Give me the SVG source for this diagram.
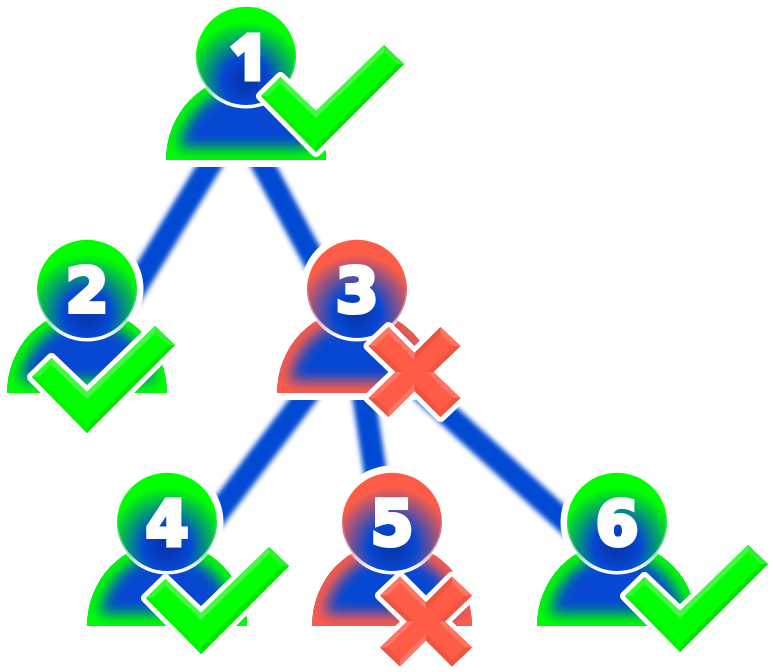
<svg xmlns="http://www.w3.org/2000/svg" xmlns:xlink="http://www.w3.org/1999/xlink" width="773" height="672" viewBox="0 0 773 672">
<style>
.halo{fill:#fff;stroke:#fff;stroke-width:14}
.rim{fill:none;stroke:url(#rim);stroke-width:3.5}
.num{font-family:"DejaVu Sans",sans-serif;font-weight:700;font-size:62px;fill:#fff;stroke:#fff;stroke-width:4;text-anchor:middle}
.one{font-family:"Open Sans","DejaVu Sans",sans-serif;font-weight:800;font-size:64px;stroke-width:3}
.link{stroke:#0648d2;stroke-width:23;fill:none}
.body{fill:#0648d2}
.glow{fill:none;stroke-width:24}
.glowG{stroke:#00ff00}.glowR{stroke:#ff5c47}
.headG{fill:url(#headG)}
.headR{fill:url(#headR)}
.mh{fill:#fff;stroke:#fff;stroke-width:10;stroke-linejoin:round}
</style>
<defs>
<radialGradient id="headG" cx=".5" cy=".74" r=".74"><stop offset=".1" stop-color="#0638b4"/><stop offset=".32" stop-color="#0648d2"/><stop offset=".8" stop-color="#00ff00"/></radialGradient>
<radialGradient id="headR" cx=".5" cy=".74" r=".74"><stop offset=".1" stop-color="#0638b4"/><stop offset=".32" stop-color="#0648d2"/><stop offset=".8" stop-color="#ff5c47"/></radialGradient>
<linearGradient id="rim" x1="0" y1="0" x2="0" y2="1"><stop offset=".45" stop-color="#fff" stop-opacity="0"/><stop offset=".8" stop-color="#fff" stop-opacity=".55"/><stop offset=".97" stop-color="#fff"/></linearGradient>
<filter id="soft" filterUnits="userSpaceOnUse" x="0" y="0" width="773" height="672"><feGaussianBlur stdDeviation="2.6"/></filter>
<filter id="glowblur" filterUnits="userSpaceOnUse" x="-130" y="-30" width="260" height="190"><feGaussianBlur stdDeviation="7"/></filter>
<clipPath id="torsoClip"><path d="M-80,104A80,84 0 0 1 80,104Z"/></clipPath>
<g id="person-halo">
<circle r="56.5" fill="#fff"/>
<path class="halo" d="M-80,104A80,84 0 0 1 80,104Z"/>
</g>
<g id="check">
<polygon class="mh" points="-55,-56 -35.5,-75 0,-41 68,-107 88,-88 0,0"/>
<polygon fill="#00ff00" points="-55,-56 -35.5,-75 0,-41 68,-107 88,-88 0,0"/>
<polygon fill="#2bff2b" points="-55,-56 -35.5,-75 -35.5,-68 -48,-56"/>
<polygon fill="#44f844" points="-35.5,-75 0,-41 0,-34 -35.5,-68"/>
<polygon fill="#44f844" points="0,-41 68,-107 68,-100 0,-34"/>
<polygon fill="#30f030" points="68,-107 88,-88 81,-88 68,-100"/>
<polygon fill="#00e400" points="88,-88 0,0 0,-7 81,-88"/>
<polygon fill="#00f600" points="0,0 -55,-56 -48,-56 0,-7"/>
</g>
<g id="cross">
<polygon class="mh" points="0,-19 26,-45 46,-26 19,0 46,26 26,45 0,19 -26,45 -46,26 -19,0 -46,-26 -26,-45"/>
<polygon fill="#ff5c47" points="0,-19 26,-45 46,-26 19,0 46,26 26,45 0,19 -26,45 -46,26 -19,0 -46,-26 -26,-45"/>
<path fill="#ee5541" d="M0,-19L26,-45 26,-38 0,-12ZM46,-26L19,0 12,0 39,-26ZM46,26L26,45 26,38 39,26ZM26,45L0,19 0,12 26,38ZM-26,45L-46,26 -39,26 -26,38ZM-46,-26L-19,0 -12,0 -39,-26Z"/>
<path fill="#ff7565" d="M26,-45L46,-26 39,-26 26,-38ZM19,0L46,26 39,26 12,0ZM0,19L-26,45 -26,38 0,12ZM-46,26L-19,0 -12,0 -39,26ZM-46,-26L-26,-45 -26,-38 -39,-26ZM-26,-45L0,-19 0,-12 -26,-38Z"/>
</g>
<g id="figG">
<g clip-path="url(#torsoClip)"><path class="body" d="M-80,104A80,84 0 0 1 80,104Z"/><path class="glow glowG" filter="url(#glowblur)" d="M-80,104A80,84 0 0 1 80,104Z"/></g>
<g transform="translate(0,.7)"><circle class="headG" r="50"/><circle class="rim" r="50"/></g>
</g>
<g id="figR">
<g clip-path="url(#torsoClip)"><path class="body" d="M-80,104A80,84 0 0 1 80,104Z"/><path class="glow glowR" filter="url(#glowblur)" d="M-80,104A80,84 0 0 1 80,104Z"/></g>
<g transform="translate(0,.7)"><circle class="headR" r="50"/><circle class="rim" r="50"/></g>
</g>
</defs>
<rect width="773" height="672" fill="#fff"/>
<g id="connectors" class="link" filter="url(#soft)">
<line x1="219" y1="150" x2="128" y2="300"/>
<line x1="255" y1="150" x2="330" y2="290"/>
<line x1="315" y1="384" x2="205" y2="530"/>
<line x1="362" y1="385" x2="381" y2="510"/>
<line x1="410" y1="380" x2="575" y2="530.5"/>
</g>
<use href="#person-halo" xlink:href="#person-halo" x="246" y="56"/>
<use href="#person-halo" xlink:href="#person-halo" x="87" y="289"/>
<use href="#person-halo" xlink:href="#person-halo" x="357" y="289"/>
<use href="#person-halo" xlink:href="#person-halo" x="167" y="522"/>
<use href="#person-halo" xlink:href="#person-halo" x="392" y="522"/>
<use href="#person-halo" xlink:href="#person-halo" x="617" y="522"/>
<g id="node1">
<g transform="translate(246,56)"><use href="#figG" xlink:href="#figG"/><text class="num one" y="24" x="2">1</text></g>
<use href="#check" xlink:href="#check" x="316" y="152"/>
</g>
<g id="node2">
<g transform="translate(87,289)"><use href="#figG" xlink:href="#figG"/><text class="num" y="23">2</text></g>
<use href="#check" xlink:href="#check" x="87" y="433"/>
</g>
<g id="node3">
<g transform="translate(357,289)"><use href="#figR" xlink:href="#figR"/><text class="num" y="23">3</text></g>
<use href="#cross" xlink:href="#cross" x="414.5" y="372"/>
</g>
<g id="node4">
<g transform="translate(167,522)"><use href="#figG" xlink:href="#figG"/><text class="num" y="23">4</text></g>
<use href="#check" xlink:href="#check" x="201" y="654"/>
</g>
<g id="node5">
<g transform="translate(392,522)"><use href="#figR" xlink:href="#figR"/><text class="num" y="23">5</text></g>
<use href="#cross" xlink:href="#cross" x="426" y="621.5"/>
</g>
<g id="node6">
<g transform="translate(617,522)"><use href="#figG" xlink:href="#figG"/><text class="num" y="23">6</text></g>
<use href="#check" xlink:href="#check" x="680" y="652"/>
</g>
</svg>
